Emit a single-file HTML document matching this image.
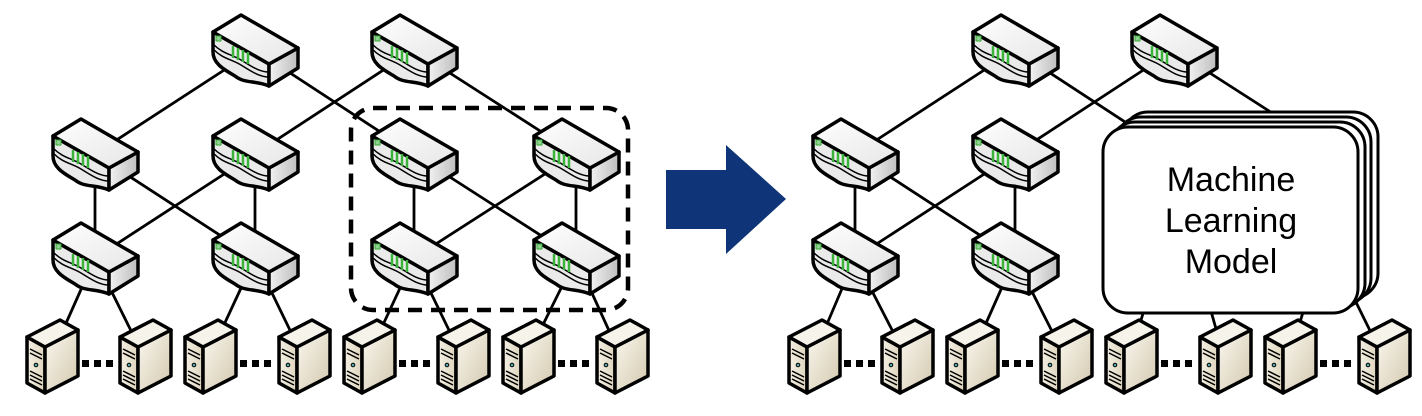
<!DOCTYPE html>
<html><head><meta charset="utf-8"><style>
html,body{margin:0;padding:0;background:#fff;width:1422px;height:416px;overflow:hidden}
</style></head><body>
<svg width="1422" height="416" viewBox="0 0 1422 416" xmlns="http://www.w3.org/2000/svg">
<defs>
<linearGradient id="top" x1="0" y1="0" x2="1" y2="1"><stop offset="0" stop-color="#ffffff"/><stop offset="1" stop-color="#e6e6e6"/></linearGradient>
<linearGradient id="rf" x1="0" y1="0" x2="1" y2="0"><stop offset="0" stop-color="#f2f2f2"/><stop offset="1" stop-color="#bdbdbd"/></linearGradient>
<linearGradient id="sv" x1="0" y1="0" x2="1" y2="1"><stop offset="0" stop-color="#fbf8f0"/><stop offset="1" stop-color="#d2c8ad"/></linearGradient>
<linearGradient id="svl" x1="0" y1="0" x2="1" y2="0"><stop offset="0" stop-color="#f4f0e4"/><stop offset="1" stop-color="#ddd4bc"/></linearGradient>
<g id="sw" stroke="#000" stroke-width="3.5" stroke-linejoin="round">
 <path d="M-42,-18 L14,14 L14,36 C0,30 -10,34 -20,26 C-30,20 -42,14 -42,2 Z" fill="#eaeaea"/>
 <path d="M14,14 L43,-2 L43,18 L14,36 Z" fill="url(#rf)"/>
 <path d="M-42,-18 L-14,-35 L43,-2 L14,14 Z" fill="url(#top)"/>
 <path d="M-42,-6 C-32,4 -24,4 -14,10 C-4,16 4,22 14,22" fill="none" stroke-width="1.5"/>
 <path d="M-42,-1 C-32,9 -24,9 -14,15 C-4,21 4,27 14,27" fill="none" stroke-width="1.5"/>
 <rect x="-39" y="-14" width="5" height="5" fill="#8fd18f" stroke="#3a3" stroke-width="1"/>
 <g stroke="#3bb33b" stroke-width="2.5"><line x1="-22" y1="-4" x2="-22" y2="8"/><line x1="-17" y1="-2" x2="-17" y2="10"/><line x1="-12" y1="0" x2="-12" y2="12"/><line x1="-7" y1="2" x2="-7" y2="14"/></g>
</g>
<g id="sv1" stroke="#000" stroke-width="3.5" stroke-linejoin="round">
 <path d="M-24,-20 L-6,-10 L-6,36 L-24,26 Z" fill="url(#svl)"/>
 <path d="M-6,-10 L27,-27 L27,19 L-6,36 Z" fill="url(#sv)"/>
 <path d="M-24,-20 L9,-37 L27,-27 L-6,-10 Z" fill="#f6f3ea"/>
 <g stroke-width="1.5"><line x1="-21" y1="-8" x2="-9" y2="-2"/><line x1="-21" y1="-4" x2="-9" y2="2"/><line x1="-21" y1="14" x2="-9" y2="20"/><line x1="-21" y1="18" x2="-9" y2="24"/><line x1="-21" y1="22" x2="-9" y2="28"/></g>
 <circle cx="-15" cy="8" r="1.8" fill="#5aa" stroke-width="1"/>
</g>
<g id="dots" fill="#000"><rect x="0" y="0" width="7" height="7"/><rect x="12" y="0" width="7" height="7"/><rect x="24" y="0" width="7" height="7"/></g>
</defs>

<g stroke="#000" stroke-width="2.8">
<line x1="255" y1="50" x2="95" y2="154"/><line x1="255" y1="50" x2="414" y2="154"/>
<line x1="414" y1="50" x2="255" y2="154"/><line x1="414" y1="50" x2="576" y2="154"/>
<line x1="95" y1="154" x2="95" y2="258"/><line x1="255" y1="154" x2="255" y2="258"/>
<line x1="95" y1="154" x2="255" y2="258"/><line x1="255" y1="154" x2="95" y2="258"/>
<line x1="414" y1="154" x2="414" y2="258"/><line x1="576" y1="154" x2="576" y2="258"/>
<line x1="414" y1="154" x2="576" y2="258"/><line x1="576" y1="154" x2="414" y2="258"/>
<line x1="95" y1="258" x2="51" y2="357"/><line x1="95" y1="258" x2="144" y2="357"/>
<line x1="255" y1="258" x2="209" y2="357"/><line x1="255" y1="258" x2="303" y2="357"/>
<line x1="414" y1="258" x2="368" y2="357"/><line x1="414" y1="258" x2="462" y2="357"/>
<line x1="576" y1="258" x2="527" y2="357"/><line x1="576" y1="258" x2="621" y2="357"/>
</g>
<use href="#sw" x="255" y="50"/><use href="#sw" x="414" y="50"/>
<use href="#sw" x="95" y="154"/><use href="#sw" x="255" y="154"/><use href="#sw" x="414" y="154"/><use href="#sw" x="576" y="154"/>
<use href="#sw" x="95" y="258"/><use href="#sw" x="255" y="258"/><use href="#sw" x="414" y="258"/><use href="#sw" x="576" y="258"/>
<use href="#sv1" x="51" y="357"/><use href="#sv1" x="144" y="357"/><use href="#sv1" x="209" y="357"/><use href="#sv1" x="303" y="357"/>
<use href="#sv1" x="368" y="357"/><use href="#sv1" x="462" y="357"/><use href="#sv1" x="527" y="357"/><use href="#sv1" x="621" y="357"/>
<use href="#dots" x="82" y="360"/><use href="#dots" x="240" y="360"/><use href="#dots" x="399" y="360"/><use href="#dots" x="558" y="360"/>
<rect x="351" y="108" width="277" height="202" rx="22" fill="none" stroke="#000" stroke-width="4.5" stroke-dasharray="14,9"/>

<polygon points="666,170 726,170 726,145 786,199 726,254 726,229 666,229" fill="#0f3578"/>

<g stroke="#000" stroke-width="2.8">
<line x1="1015" y1="50" x2="855" y2="154"/><line x1="1015" y1="50" x2="1174" y2="154"/>
<line x1="1174" y1="50" x2="1015" y2="154"/><line x1="1174" y1="50" x2="1336" y2="154"/>
<line x1="855" y1="154" x2="855" y2="258"/><line x1="1015" y1="154" x2="1015" y2="258"/>
<line x1="855" y1="154" x2="1015" y2="258"/><line x1="1015" y1="154" x2="855" y2="258"/>
<line x1="855" y1="258" x2="813" y2="357"/><line x1="855" y1="258" x2="906" y2="357"/>
<line x1="1015" y1="258" x2="971" y2="357"/><line x1="1015" y1="258" x2="1065" y2="357"/>
<line x1="1150" y1="290" x2="1130" y2="357"/><line x1="1205" y1="290" x2="1224" y2="357"/>
<line x1="1310" y1="290" x2="1289" y2="357"/><line x1="1350" y1="290" x2="1383" y2="357"/>
</g>
<use href="#sw" x="1015" y="50"/><use href="#sw" x="1174" y="50"/>
<use href="#sw" x="855" y="154"/><use href="#sw" x="1015" y="154"/>
<use href="#sw" x="855" y="258"/><use href="#sw" x="1015" y="258"/>
<g fill="#fff" stroke="#000" stroke-width="3">
<rect x="1123" y="112" width="255" height="186" rx="25"/>
<rect x="1116" y="117" width="255" height="186" rx="25"/>
<rect x="1110" y="122" width="255" height="186" rx="25"/>
<rect x="1103" y="127" width="255" height="186" rx="25"/>
</g>
<g font-family="Liberation Sans, sans-serif" font-size="34" text-anchor="middle" fill="#000">
<text x="1231" y="191">Machine</text><text x="1231" y="232">Learning</text><text x="1231" y="273">Model</text>
</g>
<use href="#sv1" x="813" y="357"/><use href="#sv1" x="906" y="357"/><use href="#sv1" x="971" y="357"/><use href="#sv1" x="1065" y="357"/>
<use href="#sv1" x="1130" y="357"/><use href="#sv1" x="1224" y="357"/><use href="#sv1" x="1289" y="357"/><use href="#sv1" x="1383" y="357"/>
<use href="#dots" x="844" y="360"/><use href="#dots" x="1002" y="360"/><use href="#dots" x="1161" y="360"/><use href="#dots" x="1320" y="360"/>
</svg>
</body></html>
